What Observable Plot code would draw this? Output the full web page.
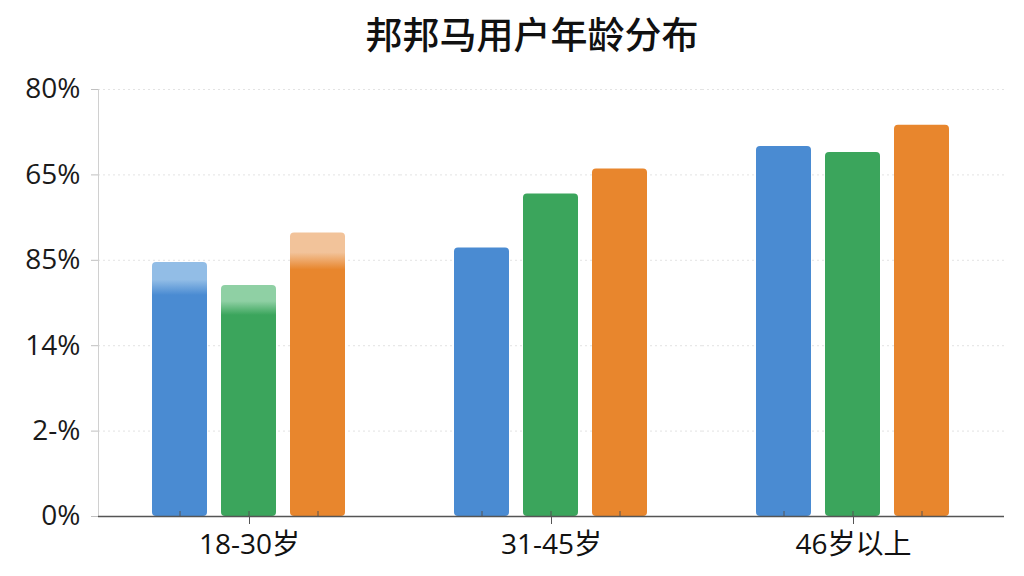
<!DOCTYPE html>
<html>
<head>
<meta charset="utf-8">
<script src="https://cdn.jsdelivr.net/npm/d3@7"></script>
<script src="https://cdn.jsdelivr.net/npm/@observablehq/plot@0.6"></script>
<style>
  html, body { margin: 0; padding: 0; background: #fff; }
  #title { height: 60px; line-height: 66px; text-align: center; padding-left: 40px; box-sizing: border-box; font-family: "Noto Sans CJK SC", "Noto Sans", sans-serif; font-size: 37px; font-weight: 500; color: #111; overflow: visible; }
  #chart svg { display: block; }
</style>
</head>
<body>
<div id="title">邦邦马用户年龄分布</div>
<div id="chart"></div>
<script>
const groups = ["18-30岁", "31-45岁", "46岁以上"];
const seriesNames = ["系列1", "系列2", "系列3"];
const blueValues = [47.6, 50.3, 69.3];
const greenValues = [43.3, 60.4, 68.2];
const orangeValues = [53.1, 65.1, 73.3];
const yTicks = [0, 16, 32, 48, 64, 80];
const yTickLabels = ["0%", "2-%", "14%", "85%", "65%", "80%"];
const colors = ["#4a8bd2", "#3ba55c", "#e8862d"];
const lightColors = ["#92bde6", "#8fd0a4", "#f2c39a"];

const seriesValues = [blueValues, greenValues, orangeValues];
const data = [];
groups.forEach((g, gi) => seriesNames.forEach((s, si) => data.push({group: g, series: s, value: seriesValues[si][gi]})));

const defs = () => {
  const ns = "http://www.w3.org/2000/svg";
  const d = document.createElementNS(ns, "defs");
  colors.forEach((c, k) => {
    const lg = document.createElementNS(ns, "linearGradient");
    lg.setAttribute("id", "g" + k);
    lg.setAttribute("x1", "0"); lg.setAttribute("x2", "0");
    lg.setAttribute("y1", "0"); lg.setAttribute("y2", "1");
    [[0, lightColors[k]], [0.07, lightColors[k]], [0.13, c], [1, c]].forEach(([o, col]) => {
      const st = document.createElementNS(ns, "stop");
      st.setAttribute("offset", o);
      st.setAttribute("stop-color", col);
      lg.appendChild(st);
    });
    d.appendChild(lg);
  });
  return d;
};

const firstGroupBars = seriesNames.map((s, k) =>
  Plot.barY(data.filter(d => d.group === groups[0] && d.series === s),
    {fx: "group", x: "series", y: "value", fill: `url(#g${k})`, rx: 4}));

const chart = Plot.plot({
  width: 1024,
  height: 516,
  marginTop: 29,
  marginBottom: 60,
  marginLeft: 97,
  marginRight: 19,
  style: {fontFamily: '"Open Sans", "Noto Sans CJK SC", sans-serif', color: "#1a1a1a", background: "#fff"},
  fx: {domain: groups, padding: 0, label: null},
  x: {domain: seriesNames, paddingInner: 0.2, paddingOuter: 0.76, axis: null},
  y: {domain: [0, 80], label: null},
  color: {domain: seriesNames, range: colors},
  marks: [
    defs,
    Plot.gridY(yTicks, {stroke: "#d0d0d0", strokeOpacity: 0.6, strokeDasharray: "2,3"}),
    Plot.frame({anchor: "left", stroke: "#d0d0d0", fx: [groups[0]]}),
    Plot.barY(data.filter(d => d.group !== groups[0]), {fx: "group", x: "series", y: "value", fill: "series", rx: 4}),
    ...firstGroupBars,
    Plot.ruleY([0], {stroke: "#555", strokeWidth: 1.5}),
    Plot.axisY(yTicks, {tickFormat: d => yTickLabels[yTicks.indexOf(d)], fontSize: 28, tickSize: 7, tickPadding: 11, stroke: "#c0c0c0", fill: "#1a1a1a", label: null}),
    Plot.axisX({anchor: "bottom", tickSize: -5, tickFormat: () => "", stroke: "#555", label: null}),
    Plot.axisFx({anchor: "bottom", fontSize: 28, tickSize: 8, tickPadding: 10, stroke: "#555", fill: "#111", label: null})
  ]
});
document.getElementById("chart").appendChild(chart);
</script>
</body>
</html>
